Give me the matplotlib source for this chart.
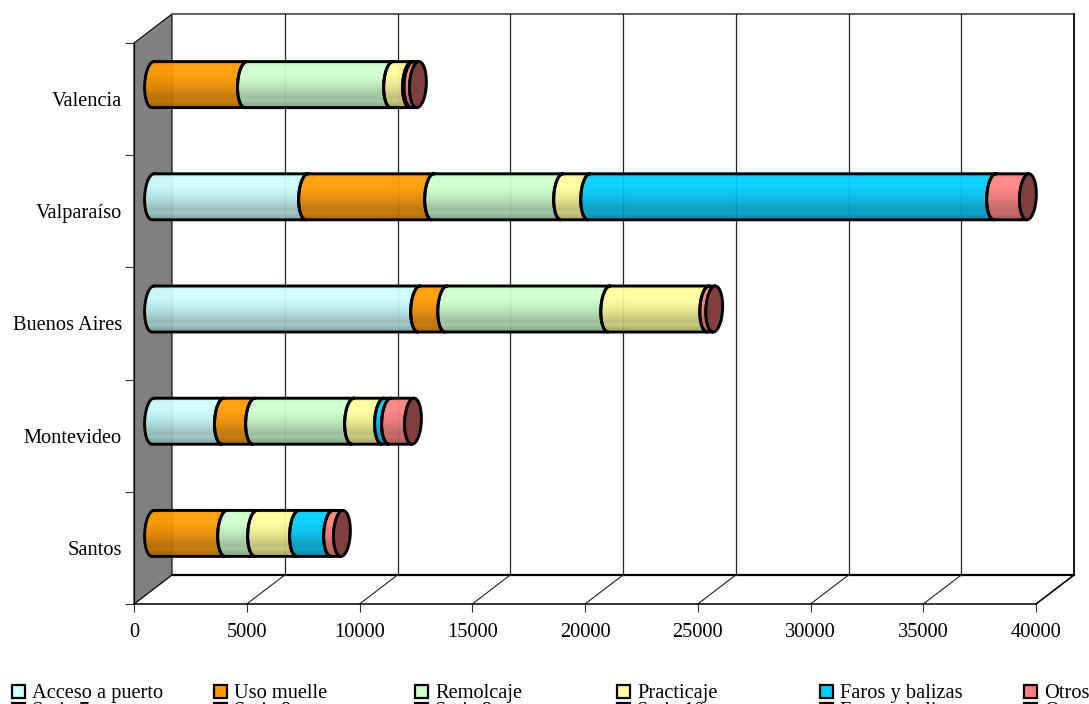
import numpy as np
import matplotlib
matplotlib.use('Agg')
import matplotlib.pyplot as plt
from matplotlib.patches import PathPatch, Polygon, Rectangle
from matplotlib.path import Path

plt.rcParams['font.family'] = ['Liberation Serif', 'DejaVu Serif']

# Data, bottom to top
ports = ['Santos', 'Montevideo', 'Buenos Aires', 'Valparaíso', 'Valencia']
acceso = [0, 3100, 11800, 6830, 0]
uso_muelle = [3240, 1380, 1200, 5590, 4120]
remolcaje = [1330, 4390, 7230, 5720, 6480]
practicaje = [1860, 1330, 4390, 1200, 840]
faros = [1510, 310, 0, 18000, 60]
otros = [440, 1020, 270, 1460, 250]

series = [acceso, uso_muelle, remolcaje, practicaje, faros, otros]
colors = ['#CCFFFF', '#FF9900', '#CCFFCC', '#FFFF99', '#00CCFF', '#FF8080']
cap_color = '#804040'

legend_row1 = ['Acceso a puerto', 'Uso muelle', 'Remolcaje', 'Practicaje', 'Faros y balizas', 'Otros']
legend_row2 = ['Serie 7', 'Serie 8', 'Serie 9', 'Serie 10', 'Faros y balizas', 'Otros']
row2_colors = ['#333333', '#3A2800', '#223333', '#333333', '#555500', '#333333']

W, H = 1089, 704
FS = 14.7
fig = plt.figure(figsize=(W / 100, H / 100), dpi=100)
ax = fig.add_axes([134 / W, 1 - 604 / H, 902 / W, 561 / H])
ax.patch.set_visible(False)

xmax = 40000
nports = len(ports)
# depth of the 3d box in data units
dx = 38 / 902 * xmax
dy = 29 / 561 * nports
# cylinder radii in data units
rx, ry, skew = 370, 0.205, 45


def left_arc(cx, cy, reverse=False):
    t = np.linspace(np.pi / 2, 3 * np.pi / 2, 30)
    if reverse:
        t = t[::-1]
    return np.column_stack([cx + rx * np.cos(t) + skew * np.sin(t), cy + ry * np.sin(t)])


# walls and floor
ax.add_patch(Polygon([(0, 0), (dx, dy), (dx, nports + dy), (0, nports)], fc='#808080', ec='black', lw=0.8, zorder=1, clip_on=False))
ax.plot([dx, xmax + dx], [nports + dy] * 2, color='#555555', lw=1.3, zorder=1, clip_on=False)
ax.plot([dx, xmax + dx], [dy, dy], color='black', lw=1.6, zorder=1, clip_on=False)
ax.plot([xmax + dx] * 2, [dy, nports + dy], color='black', lw=1.3, zorder=1, clip_on=False)
ax.plot([xmax, xmax + dx], [0, dy], color='black', lw=1.2, zorder=1, clip_on=False)
for v in range(5000, xmax, 5000):
    ax.plot([v + dx, v + dx], [dy, nports + dy], color='#222222', lw=0.9, zorder=1, clip_on=False)
for v in range(0, xmax, 5000):
    ax.plot([v, v + dx], [0, dy], color='#222222', lw=0.8, zorder=1, clip_on=False)

# shading down the cylinder, banded the way the original is
shade = np.array([0.9, 1.0, 1.03, 1.0, 1.03, 0.98, 0.96, 0.93, 0.9, 0.86, 0.82, 0.78, 0.74, 0.78, 0.7, 0.66])[:, None, None]

for i in range(nports):
    cy = i + 0.5 + dy / 2
    start = dx / 2
    for vals, color in zip(series, colors):
        if vals[i] == 0:
            continue
        end = start + vals[i]
        pts = np.vstack([left_arc(start, cy), left_arc(end, cy, reverse=True), left_arc(start, cy)[:1]])
        path = Path(pts)
        rgb = np.array(matplotlib.colors.to_rgb(color))[None, None, :]
        img = ax.imshow(np.clip(shade * rgb, 0, 1), extent=(start - rx - skew, end + rx, cy - ry, cy + ry), origin='upper',
                        aspect='auto', interpolation='bilinear', alpha=0.94, zorder=3, clip_on=True)
        outline = PathPatch(path, fc='none', ec='black', lw=2.1, joinstyle='round', capstyle='round', zorder=4, clip_on=False)
        ax.add_patch(outline)
        img.set_clip_path(PathPatch(path, transform=ax.transData))
        start = end
    t = np.linspace(0, 2 * np.pi, 60)
    cap = np.column_stack([start + rx * np.cos(t) + skew * np.sin(t), cy + ry * np.sin(t)])
    ax.add_patch(Polygon(cap, fc=cap_color, ec='black', lw=2.1, joinstyle='round', zorder=5, clip_on=False))

ax.set_xlim(0, xmax)
ax.set_ylim(0, nports)
for side in ['top', 'right']:
    ax.spines[side].set_visible(False)
ax.spines['bottom'].set_linewidth(1.1)
ax.spines['left'].set_linewidth(0.8)

ax.set_xticks(range(0, xmax + 1, 5000))
ax.tick_params(axis='x', length=5.8, width=0.8, labelsize=FS, pad=8, color='#333333')
ax.set_yticks(range(nports + 1))
ax.set_yticklabels([])
ax.tick_params(axis='y', which='major', length=6.5, width=0.8, color='#333333')
ax.set_yticks([i + 0.5 for i in range(nports)], labels=ports, minor=True)
ax.tick_params(axis='y', which='minor', length=0, labelsize=FS, pad=8.6)

# legend, second row runs off the bottom of the image
legend_x = [12, 214, 415, 617, 820, 1024]
for row, (labels, cols, top) in enumerate([(legend_row1, colors, 685), (legend_row2, row2_colors, 703)]):
    for x, label, col in zip(legend_x, labels, cols):
        fig.add_artist(Rectangle((x / W, 1 - (top + 13) / H), 13 / W, 13 / H, transform=fig.transFigure,
                                 fc=col, ec='black', lw=1.6))
        fig.text((x + 20) / W, 1 - (top + 13) / H, label, fontsize=FS, va='baseline', ha='left')

fig.savefig('out.png', dpi=100)
